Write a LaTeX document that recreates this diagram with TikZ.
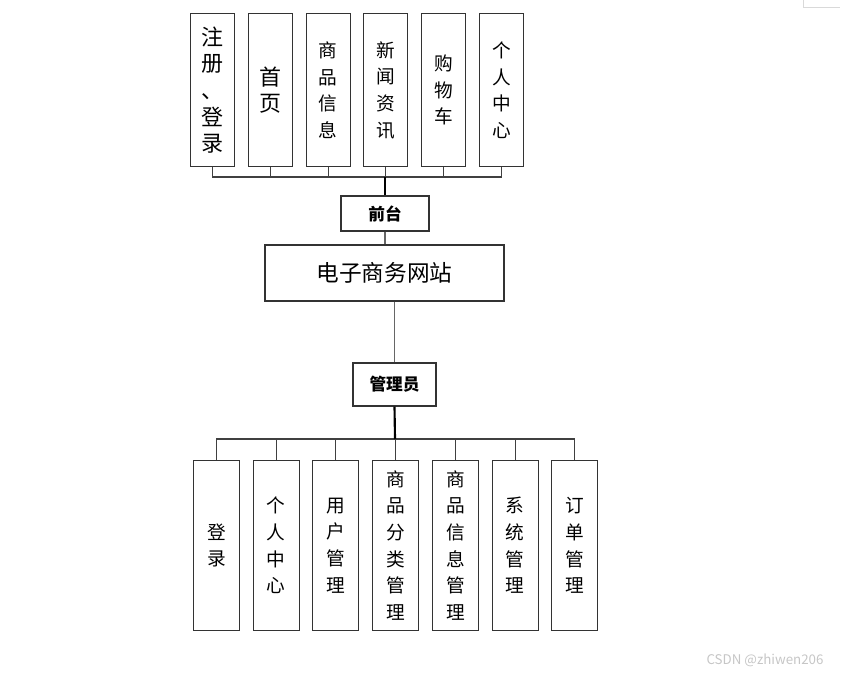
\documentclass[tikz,border=0pt]{standalone}
\usepackage{fontspec}
\setmainfont{Noto Sans CJK SC}
\usetikzlibrary{positioning}

\tikzset{
  box/.style={draw=black!80, line width=0.8pt, inner sep=0pt, align=center},
  topbox/.style={box, anchor=north west, minimum width=33pt, minimum height=115pt},
  botbox/.style={box, anchor=north west, minimum width=34.5pt, minimum height=127.5pt},
  smalltxt/.style={font=\fontsize{14}{20}\selectfont},
  bigtxt/.style={font=\fontsize{16.5}{20}\selectfont},
  bus/.style={draw=black!75, line width=0.8pt},
  trunk/.style={draw=black, line width=1.6pt},
  link/.style={draw=black!60, line width=1.3pt},
}

\begin{document}
\begin{tikzpicture}[x=0.75pt, y=-0.75pt]
    \useasboundingbox (0,0) rectangle (845,675);

    % Front end modules
    \foreach \lbl/\fs [count=\i] in {{注\\册\\、\\登\\录}/bigtxt, {首\\页}/bigtxt,
        {商\\品\\信\\息}/smalltxt, {新\\闻\\资\\讯}/smalltxt,
        {购\\物\\车}/smalltxt, {个\\人\\中\\心}/smalltxt}
        \node[topbox, \fs] (t\i) at ({190+57.8*(\i-1)},13) {\lbl};

    % Centre
    \node[box, minimum width=66pt, minimum height=26.25pt,
          font=\fontsize{12.5}{15}\selectfont\bfseries] (front) at (385,213.5) {前台};
    \node[box, minimum width=179.25pt, minimum height=42pt,
          font=\fontsize{17}{20}\selectfont] (site) at (384.5,273) {电子商务网站};
    \node[box, minimum width=62.25pt, minimum height=32.25pt,
          font=\fontsize{12.5}{15}\selectfont\bfseries] (admin) at (394.5,384.5) {管理员};

    % Back end modules
    \foreach \lbl [count=\i] in {{登\\录}, {个\\人\\中\\心}, {用\\户\\管\\理},
        {商\\品\\分\\类\\管\\理}, {商\\品\\信\\息\\管\\理}, {系\\统\\管\\理}, {订\\单\\管\\理}}
        \node[botbox, smalltxt] (b\i) at ({193+59.7*(\i-1)},460) {\lbl};

    % Buses
    \coordinate (tbus) at (385,177);
    \coordinate (bbus) at (395,439);
    \foreach \i in {1,...,6}
        \draw[bus] (t\i.south) |- (tbus);
    \foreach \i in {1,...,7}
        \draw[bus] (b\i.north) |- (bbus);

    % Links
    \draw[trunk] (tbus) -- (front.north);
    \draw[link] (front.south) -- (site.north -| front.south);
    \draw[link] (admin.north) -- (admin.north |- site.south);
    \draw[trunk] (admin.south) -- (bbus);

    % Marks
    \draw[gray!30, line width=0.5pt] (803,0) -- (803,7) -- (840,7);
    \node[text=gray!45, font=\fontsize{10}{12}\selectfont] (mark) at (765,660) {CSDN @zhiwen206};
\end{tikzpicture}
\end{document}
